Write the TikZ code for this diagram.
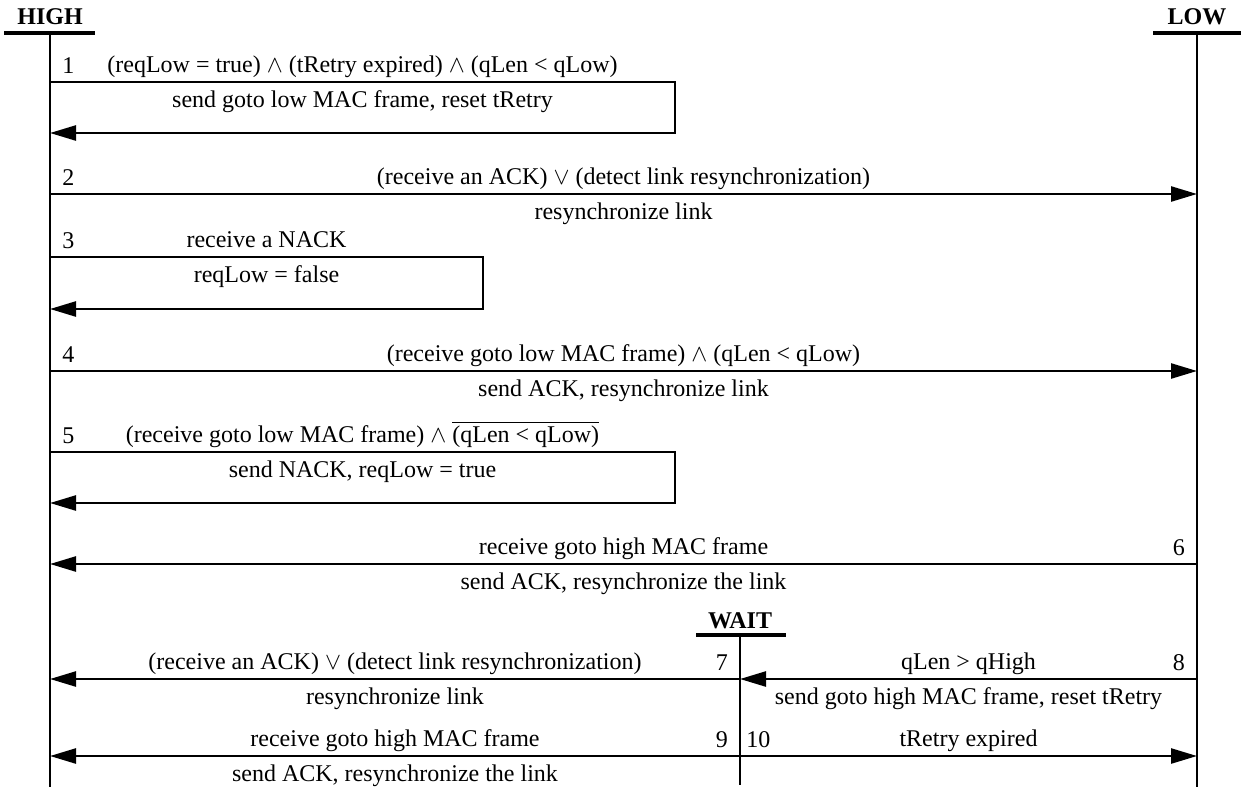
\documentclass[tikz,border=0pt]{standalone}
\usepackage{amsmath,amssymb}
\usepackage{fontspec}
\setmainfont{Liberation Serif}
\usepackage{tikz}
\usetikzlibrary{arrows.meta,positioning,calc}
\tikzset{
    every picture/.style={line join=miter},
    lifeline/.style={draw=black,line width=0.9pt},
    headbar/.style={draw=black,line width=1.8pt},
    headlabel/.style={font=\fontsize{12}{14}\selectfont\bfseries,inner sep=0pt},
    msgarrow/.style={-{Triangle[length=13pt,width=7.5pt]},draw=black,
      line width=1.25pt},
    condlabel/.style={anchor=base,yshift=5pt,inner sep=0pt},
    actlabel/.style={anchor=base,yshift=-12.5pt,inner sep=0pt},
    numleft/.style={anchor=base west,xshift=5.5pt,yshift=4.5pt,inner sep=0pt},
    numright/.style={anchor=base east,xshift=-5.5pt,yshift=4.5pt,inner sep=0pt}
}

\begin{document}
\begin{tikzpicture}[x=0.5pt,y=-0.5pt,font=\fontsize{12}{14}\selectfont]
  \useasboundingbox (0,0) rectangle (1241,787);
  % the three states
  \node[headlabel] (high) at (50,17) {HIGH};
  \node[headlabel] (low) at (1197,17) {LOW};
  \node[headlabel] (wait) at (740,621) {WAIT};
  \coordinate (hTop) at (50,33);   \coordinate (hBot) at (50,787);
  \coordinate (lTop) at (1197,33); \coordinate (lBot) at (1197,787);
  \coordinate (wTop) at (740,635); \coordinate (wBot) at (740,785);
  \draw[headbar] ([xshift=-23pt]hTop) -- ([xshift=22.5pt]hTop);
  \draw[headbar] ([xshift=-22pt]lTop) -- ([xshift=22pt]lTop);
  \draw[headbar] ([xshift=-22pt]wTop) -- ([xshift=23pt]wTop);
  \draw[lifeline] (hTop) -- (hBot);
  \draw[lifeline] (lTop) -- (lBot);
  \draw[lifeline] (wTop) -- (wBot);
  % right edges of the self loops
  \coordinate (rWide) at (675,0);
  \coordinate (rNarrow) at (483,0);
  % 1
  \coordinate (h1a) at (50,82);  \coordinate (h1b) at (50,133);
  \draw[msgarrow] (h1a) -- (h1a -| rWide)
      node[pos=0,numleft] (n1) {1}
      node[midway,condlabel] (c1) {(reqLow = true) $\wedge$ (tRetry expired) $\wedge$ (qLen < qLow)}
      node[midway,actlabel] (a1) {send goto low MAC frame, reset tRetry}
    -- (h1b -| rWide) -- (h1b);
  % 2
  \coordinate (h2) at (50,194);  \coordinate (l2) at (1197,194);
  \draw[msgarrow] (h2) -- (l2)
      node[pos=0,numleft] (n2) {2}
      node[midway,condlabel] (c2) {(receive an ACK) $\vee$ (detect link resynchronization)}
      node[midway,actlabel] (a2) {resynchronize link};
  % 3
  \coordinate (h3a) at (50,257); \coordinate (h3b) at (50,309);
  \draw[msgarrow] (h3a) -- (h3a -| rNarrow)
      node[pos=0,numleft] (n3) {3}
      node[midway,condlabel] (c3) {receive a NACK}
      node[midway,actlabel] (a3) {reqLow = false}
    -- (h3b -| rNarrow) -- (h3b);
  % 4
  \coordinate (h4) at (50,371);  \coordinate (l4) at (1197,371);
  \draw[msgarrow] (h4) -- (l4)
      node[pos=0,numleft] (n4) {4}
      node[midway,condlabel] (c4) {(receive goto low MAC frame) $\wedge$ (qLen < qLow)}
      node[midway,actlabel] (a4) {send ACK, resynchronize link};
  % 5
  \coordinate (h5a) at (50,452); \coordinate (h5b) at (50,503);
  \draw[msgarrow] (h5a) -- (h5a -| rWide)
      node[pos=0,numleft] (n5) {5}
      node[midway,condlabel] (c5) {(receive goto low MAC frame) $\wedge$ $\overline{\mbox{(qLen < qLow)}}$}
      node[midway,actlabel] (a5) {send NACK, reqLow = true}
    -- (h5b -| rWide) -- (h5b);
  % 6
  \coordinate (h6) at (50,564);  \coordinate (l6) at (1197,564);
  \draw[msgarrow] (l6) -- (h6)
      node[pos=0,numright] (n6) {6}
      node[midway,condlabel] (c6) {receive goto high MAC frame}
      node[midway,actlabel] (a6) {send ACK, resynchronize the link};
  % 7 and 8
  \coordinate (h7) at (50,679);  \coordinate (w7) at (740,679);
  \coordinate (l8) at (1197,679);
  \draw[msgarrow] (w7) -- (h7)
      node[pos=0,numright] (n7) {7}
      node[midway,condlabel] (c7) {(receive an ACK) $\vee$ (detect link resynchronization)}
      node[midway,actlabel] (a7) {resynchronize link};
  \draw[msgarrow] (l8) -- (w7)
      node[pos=0,numright] (n8) {8}
      node[midway,condlabel] (c8) {qLen > qHigh}
      node[midway,actlabel] (a8) {send goto high MAC frame, reset tRetry};
  % 9 and 10
  \coordinate (h9) at (50,756);  \coordinate (w9) at (740,756);
  \coordinate (l10) at (1197,756);
  \draw[msgarrow] (w9) -- (h9)
      node[pos=0,numright] (n9) {9}
      node[midway,condlabel] (c9) {receive goto high MAC frame}
      node[midway,actlabel] (a9) {send ACK, resynchronize the link};
  \draw[msgarrow] (w9) -- (l10)
      node[pos=0,numleft,xshift=-3pt] (n10) {10}
      node[midway,condlabel] (c10) {tRetry expired};
\end{tikzpicture}
\end{document}
